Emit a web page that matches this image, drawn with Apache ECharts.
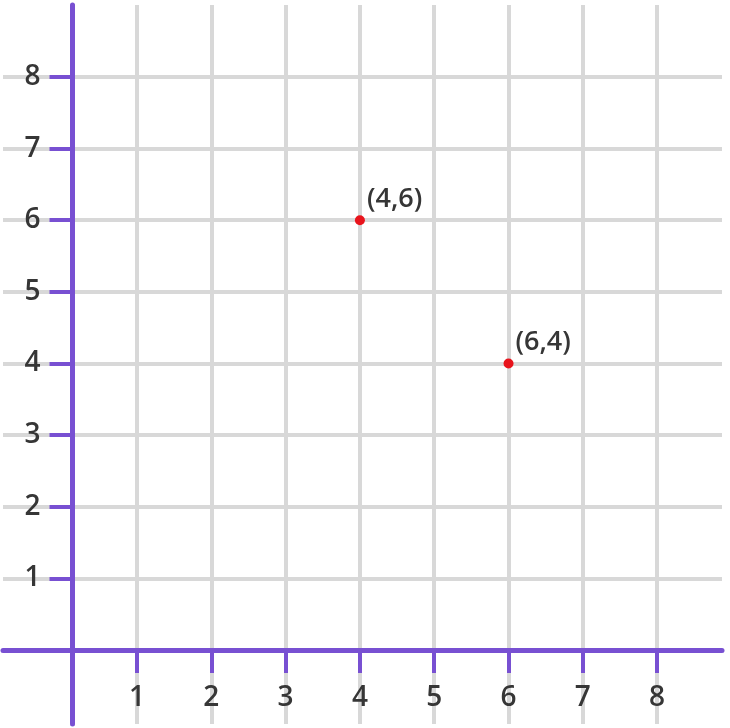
<!DOCTYPE html>
<html>
<head>
<meta charset="utf-8">
<script src="https://cdn.jsdelivr.net/npm/echarts@6/dist/echarts.min.js"></script>
<style>
  html, body { margin: 0; padding: 0; background: #fff; }
  #chart { width: 730px; height: 728px; }
</style>
</head>
<body>
<div id="chart"></div>
<script>
// tick values on both axes
const xTicks = [1, 2, 3, 4, 5, 6, 7, 8];
const yTicks = [1, 2, 3, 4, 5, 6, 7, 8];
// plotted points and their labels
const points = [[4, 6], [6, 4]];
const pointLabels = ['(4,6)', '(6,4)'];

const purple = '#7850d2';
const gridGray = '#d8d8d8';
const textColor = '#363636';
const font = '"Open Sans", Lato, sans-serif';

const chart = echarts.init(document.getElementById('chart'));

const option = {
    animation: false,
    grid: { left: 3, right: 8, top: 5, bottom: 4, containLabel: false, outerBoundsMode: 'none' },
    xAxis: {
        type: 'value',
        min: -0.803,
        max: 8.873,
        position: 'bottom',
        offset: -74,
        axisLine: { onZero: false, lineStyle: { color: purple, width: 5 } },
        axisTick: { customValues: xTicks, length: 23, lineStyle: { color: purple, width: 4 } },
        axisLabel: { customValues: xTicks, margin: 34, fontSize: 28, fontWeight: 600, color: textColor, fontFamily: font },
        splitLine: { show: true, lineStyle: { color: gridGray, width: 4 } }
    },
    yAxis: {
        type: 'value',
        min: -1.033,
        max: 9.005,
        position: 'left',
        offset: -69.5,
        axisLine: { show: true, onZero: false, lineStyle: { color: purple, width: 5 } },
        axisTick: { show: true, customValues: yTicks, length: 23, lineStyle: { color: purple, width: 4 } },
        axisLabel: { customValues: yTicks, margin: 32, fontSize: 28, fontWeight: 600, color: textColor, fontFamily: font },
        splitLine: { show: true, lineStyle: { color: gridGray, width: 4 } }
    },
    series: [{
        type: 'scatter',
        data: points.map((p, i) => ({ value: p, name: pointLabels[i] })),
        symbolSize: 10,
        itemStyle: { color: '#e8141c', opacity: 1 },
        label: {
            show: true,
            formatter: (p) => p.name,
            position: [12, -16],
            align: 'left',
            verticalAlign: 'middle',
            fontSize: 27,
            fontWeight: 600,
            color: textColor,
            fontFamily: font
        },
        z: 5
    }]
};

chart.setOption(option);
</script>
</body>
</html>
